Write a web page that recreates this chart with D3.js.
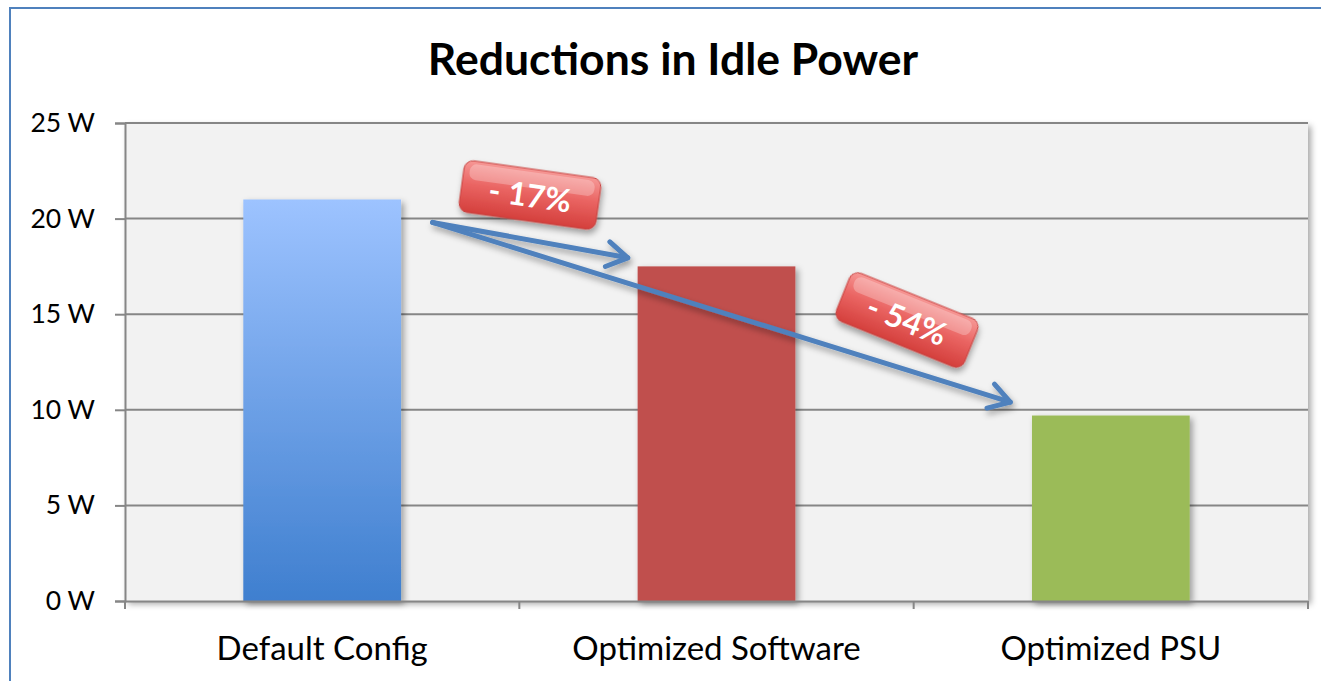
<!DOCTYPE html>
<html><head><meta charset="utf-8">
<script src="https://cdn.jsdelivr.net/npm/d3@7"></script>
<style>
html,body{margin:0;padding:0;background:#fff;}
svg{display:block;font-family:Lato,"Open Sans",sans-serif;}
</style></head>
<body><svg id="chart" width="1321" height="681"></svg>
<script>
const categories = ["Default Config", "Optimized Software", "Optimized PSU"];
const values = [21.0, 17.5, 9.7];
const yTicks = [0, 5, 10, 15, 20, 25];
const yTickLabels = ["0 W", "5 W", "10 W", "15 W", "20 W", "25 W"];
const chartTitle = "Reductions in Idle Power";
// annotation arrows: start/end in data units (category position, watts)
const arrowLabels = ["- 17%", "- 54%"];
const arrowStart = [0.78, 19.8];
const arrowEnds = [[1.275, 17.95], [2.245, 10.4]];

const svg = d3.select("#chart");
const W = 1321, H = 681;
const m = {left:125, right:13, top:123, bottom:80};
const x0 = m.left, x1 = W - m.right, y0 = H - m.bottom, y1 = m.top;

const defs = svg.append("defs");
const g1 = defs.append("linearGradient").attr("id","blueGrad").attr("x1",0).attr("y1",0).attr("x2",0).attr("y2",1);
g1.append("stop").attr("offset","0%").attr("stop-color","#9dc3ff");
g1.append("stop").attr("offset","100%").attr("stop-color","#3f7fcf");
const g2 = defs.append("linearGradient").attr("id","redGrad").attr("x1",0).attr("y1",0).attr("x2",0).attr("y2",1);
g2.append("stop").attr("offset","0%").attr("stop-color","#f69896");
g2.append("stop").attr("offset","45%").attr("stop-color","#ea6563");
g2.append("stop").attr("offset","100%").attr("stop-color","#d43f3c");
const sh = defs.append("filter").attr("id","shadow").attr("x","-10%").attr("y","-10%").attr("width","130%").attr("height","130%");
sh.append("feDropShadow").attr("dx",3).attr("dy",3).attr("stdDeviation",3).attr("flood-color","#000").attr("flood-opacity",0.35);
const sh2 = defs.append("filter").attr("id","shadow2").attr("x","-20%").attr("y","-20%").attr("width","140%").attr("height","150%");
sh2.append("feDropShadow").attr("dx",2).attr("dy",4).attr("stdDeviation",3).attr("flood-color","#000").attr("flood-opacity",0.35);

// outer border
svg.append("rect").attr("x",10).attr("y",8).attr("width",W).attr("height",H)
  .attr("fill","#fff").attr("stroke","#4f81bd").attr("stroke-width",2);

svg.append("text").attr("x",673).attr("y",75).attr("text-anchor","middle")
  .attr("font-weight","bold").attr("font-size",44.5).attr("fill","#000").text(chartTitle);

const x = d3.scaleBand().domain(categories).range([x0, x1]).paddingInner(0.6).paddingOuter(0.3);
const y = d3.scaleLinear().domain([0, 25]).range([y0, y1]);
const step = (x1 - x0) / categories.length;
const xPos = v => x0 + v * step;

// plot area
svg.append("rect").attr("x",x0).attr("y",y1).attr("width",x1-x0).attr("height",y0-y1)
  .attr("fill","#f2f2f2").attr("filter","url(#shadow)");

// gridlines
svg.append("g").selectAll("line").data(yTicks.filter(d=>d>0)).join("line")
  .attr("x1",x0).attr("x2",x1).attr("y1",d=>y(d)).attr("y2",d=>y(d))
  .attr("stroke","#868686").attr("stroke-width",2);

// bars
const fills = ["url(#blueGrad)", "#c0504d", "#9bbb59"];
svg.append("g").selectAll("rect").data(values).join("rect")
  .attr("x",(d,i)=>x(categories[i])).attr("width",x.bandwidth())
  .attr("y",d=>y(d)).attr("height",d=>y0-y(d))
  .attr("fill",(d,i)=>fills[i]).attr("filter","url(#shadow)");

// y axis
const yAxis = d3.axisLeft(y).tickValues(yTicks).tickFormat((d,i)=>yTickLabels[i]).tickSize(10).tickPadding(20);
const ya = svg.append("g").attr("transform",`translate(${x0},0)`).call(yAxis);
ya.select(".domain").attr("stroke","#868686").attr("stroke-width",2);
ya.selectAll(".tick line").attr("stroke","#868686").attr("stroke-width",2);
ya.selectAll(".tick text").attr("font-size",26.5).attr("fill","#000").attr("font-family","Lato,sans-serif");

// x axis
const xAxis = d3.axisBottom(x).tickSize(0).tickPadding(36);
const xa = svg.append("g").attr("transform",`translate(0,${y0})`).call(xAxis);
xa.select(".domain").attr("stroke","#868686").attr("stroke-width",2);
xa.selectAll(".tick text").attr("font-size",33).attr("fill","#000").attr("font-family","Lato,sans-serif");
xa.append("g").selectAll("line").data(d3.range(categories.length+1)).join("line")
  .attr("x1",i=>xPos(i)).attr("x2",i=>xPos(i))
  .attr("y1",0).attr("y2",8).attr("stroke","#868686").attr("stroke-width",2);

// arrows
const ag = svg.append("g").attr("filter","url(#shadow2)");
const sx = xPos(arrowStart[0]), sy = y(arrowStart[1]);
arrowEnds.forEach(e=>{
  const ex = xPos(e[0]), ey = y(e[1]);
  ag.append("line").attr("x1",sx).attr("y1",sy).attr("x2",ex).attr("y2",ey)
    .attr("stroke","#4f81bd").attr("stroke-width",5).attr("stroke-linecap","round");
  const ang = Math.atan2(ey-sy, ex-sx);
  const L = 24, a = 0.55;
  const p1 = [ex - L*Math.cos(ang-a), ey - L*Math.sin(ang-a)];
  const p2 = [ex - L*Math.cos(ang+a), ey - L*Math.sin(ang+a)];
  ag.append("path").attr("d",`M${p1[0]},${p1[1]}L${ex},${ey}L${p2[0]},${p2[1]}`)
    .attr("fill","none").attr("stroke","#4f81bd").attr("stroke-width",5)
    .attr("stroke-linecap","round").attr("stroke-linejoin","round");
});

// labels
const labelPos = [[530, 195, 8], [907, 320, 22]];
arrowLabels.forEach((t,i)=>{
  const [cx, cy, rot] = labelPos[i];
  const g = svg.append("g").attr("transform",`translate(${cx},${cy}) rotate(${rot})`);
  g.append("rect").attr("x",-69).attr("y",-26).attr("width",138).attr("height",52)
    .attr("rx",9).attr("fill","url(#redGrad)").attr("stroke","#c8403e").attr("stroke-width",1)
    .attr("filter","url(#shadow2)");
  g.append("rect").attr("x",-63).attr("y",-23).attr("width",126).attr("height",16)
    .attr("rx",7).attr("fill","#fff").attr("opacity",0.25);
  g.append("text").attr("x",0).attr("y",12).attr("text-anchor","middle")
    .attr("font-size",32).attr("font-weight","bold").attr("fill","#fff").text(t);
});
</script></body></html>
